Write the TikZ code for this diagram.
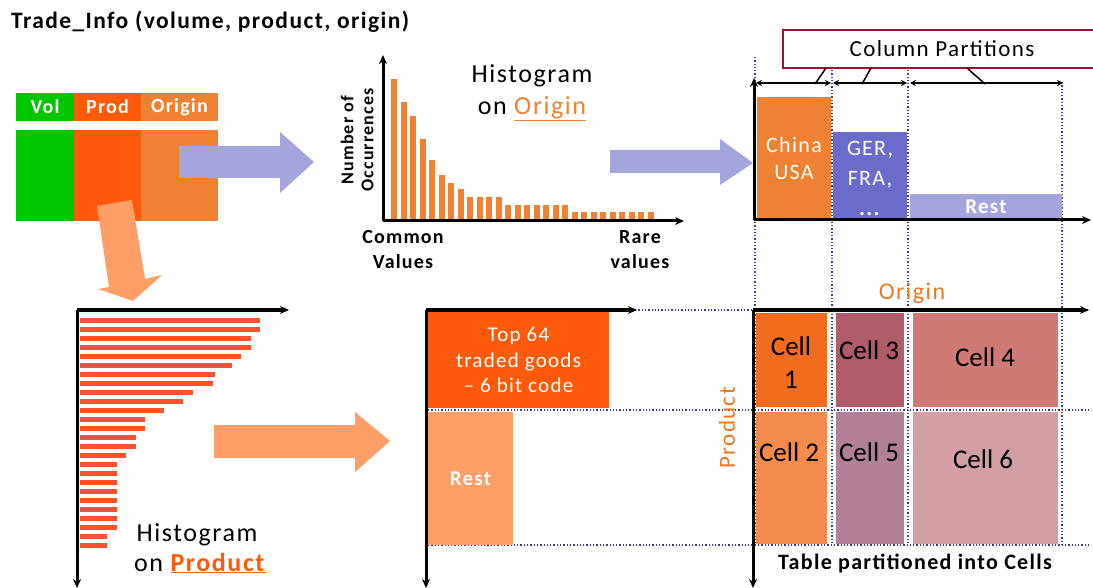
\documentclass[tikz,border=0pt]{standalone}
\usepackage{fontspec}
\setmainfont{Carlito}
\newfontfamily\widefont[LetterSpace=6]{Carlito}
\usetikzlibrary{arrows.meta}
\definecolor{cgreen}{HTML}{00C800}
\definecolor{cprod}{HTML}{FF5A0A}
\definecolor{corig}{HTML}{EE8232}
\definecolor{cbar}{HTML}{FF5030}
\definecolor{cblue}{HTML}{A5A5DE}
\definecolor{cger}{HTML}{6B6BCB}
\definecolor{clorange}{HTML}{FF9E66}
\definecolor{cdot}{HTML}{3A3A9A}
\definecolor{cborder}{HTML}{A01030}
\definecolor{ctxtor}{HTML}{F0761E}
\definecolor{cellone}{HTML}{F26B1F}
\definecolor{celltwo}{HTML}{F58C4E}
\definecolor{cellthree}{HTML}{AE5C69}
\definecolor{cellfour}{HTML}{D07A75}
\definecolor{cellfive}{HTML}{B18096}
\definecolor{cellsix}{HTML}{D39FA5}
\newcommand\fsz[2]{\fontsize{#1}{#2}\selectfont}
\begin{document}
\begin{tikzpicture}[x=1pt,y=-1pt,
  blk/.style={draw=none,inner sep=0pt,outer sep=0pt,anchor=north west},
  axis/.style={line width=3pt,-{Stealth[length=9pt,width=8pt]}},
  part/.style={line width=2pt,{Stealth[length=6pt,width=6pt]}-{Stealth[length=6pt,width=6pt]}},
  dotl/.style={cdot,line width=1.3pt,dotted},
  wtxt/.style={text=white,align=center,inner sep=0pt},
  ktxt/.style={text=black,align=center,inner sep=0pt}]
\useasboundingbox (0,0) rectangle (1093,588);
\fill[white] (0,0) rectangle (1093,588);

% title
\node[ktxt,anchor=west,font=\widefont\bfseries\fsz{23.5}{26}] (title) at (11,22) {Trade\_Info (volume, product, origin)};

% table header and body
\node[blk,fill=cgreen,minimum width=58pt,minimum height=28pt] (hvol) at (16,93) {};
\node[blk,fill=cprod,minimum width=67pt,minimum height=28pt] (hprod) at (74,93) {};
\node[blk,fill=corig,minimum width=77pt,minimum height=28pt] (horig) at (141,93) {};
\node[wtxt,font=\widefont\bfseries\fsz{20}{22}] at (hvol.center) {Vol};
\node[wtxt,font=\widefont\bfseries\fsz{20}{22}] at (hprod.center) {Prod};
\node[wtxt,font=\widefont\bfseries\fsz{20}{22}] at (horig.center) {Origin};
\node[blk,fill=cgreen,minimum width=58pt,minimum height=91pt] (bvol) at (16,130) {};
\node[blk,fill=cprod,minimum width=67pt,minimum height=91pt] (bprod) at (74,130) {};
\node[blk,fill=corig,minimum width=77pt,minimum height=91pt] (borig) at (141,130) {};

% block arrows
\fill[cblue] (179,146) -- (280,146) -- (280,132) -- (314,162) -- (280,193) -- (280,178) -- (179,178) -- cycle;
\fill[cblue] (610,150) -- (720,150) -- (720,139) -- (753,163) -- (720,185) -- (720,173) -- (610,173) -- cycle;
\fill[clorange] (97,206) -- (132,200) -- (145,279) -- (162,275) -- (133,301) -- (98,289) -- (109,287) -- cycle;
\fill[clorange] (214,425) -- (355,425) -- (355,412) -- (390,441) -- (355,472) -- (355,458) -- (214,458) -- cycle;

% histogram on origin
\foreach \t [count=\i from 0] in {79,102,116,139,160,175,183,189,197,197,197,197,205,205,205,205,205,205,205,212,212,212,212,212,212,212,212,212}
  \fill[corig] ({391+9.5*\i},\t) rectangle ({397.3+9.5*\i},220);
\coordinate (ho) at (383,221);
\coordinate (hoy) at (383,55);
\coordinate (hox) at (684,221);
\draw[axis] (ho) -- (hoy);
\draw[axis] (ho) -- (hox);
\node[ktxt,rotate=90,font=\widefont\bfseries\fsz{18}{20}] (occ) at (357,140) {Number of\\Occurrences};
\node[ktxt,font=\widefont\fsz{26}{28}] (hist1) at (532,76) {Histogram};
\node[ktxt,font=\widefont\fsz{26}{28}] (on1) at (532,109) {on \textcolor{corig}{\underline{Origin}}};
\node[ktxt,font=\widefont\bfseries\fsz{20}{25}] (common) at (403,250) {Common\\Values};
\node[ktxt,font=\widefont\bfseries\fsz{20}{25}] (rare) at (640,250) {Rare\\values};

% dotted guide lines
\draw[dotl] (755,57) -- (755,545);
\draw[dotl] (832,70) -- (832,545);
\draw[dotl] (908,70) -- (908,545);
\draw[dotl] (1062,82) -- (1062,545);
\draw[dotl] (635,310) -- (1090,310);
\draw[dotl] (428,410) -- (1090,410);
\draw[dotl] (428,545) -- (1090,545);

% column partitions plot
\node[blk,fill=corig,minimum width=74pt,minimum height=123pt] (china) at (757,97) {};
\node[blk,fill=cger,minimum width=74pt,minimum height=88pt] (ger) at (833,132) {};
\node[blk,fill=cblue,minimum width=152pt,minimum height=25pt] (rest1) at (910,194) {};
\node[wtxt,font=\widefont\fsz{22}{27}] at (china.center) {China\\USA};
\node[wtxt,font=\widefont\fsz{22}{30}] at ([yshift=-2pt]ger.center) {GER,\\FRA,\\\textbf{...}};
\node[wtxt,font=\widefont\bfseries\fsz{21}{22}] at (rest1.center) {Rest};
\coordinate (co) at (754,220);
\draw[axis] (co) -- (754,78);
\draw[axis] (co) -- (1091,220);
\coordinate (p0) at (756,83);
\coordinate (p1) at (831,83);
\coordinate (p2) at (833,83);
\coordinate (p3) at (907,83);
\coordinate (p4) at (910,83);
\coordinate (p5) at (1063,83);
\draw[part] (p0) -- (p1);
\draw[part] (p2) -- (p3);
\draw[part] (p4) -- (p5);
\fill[white,draw=cborder,line width=2pt] (1100,30) -- (783,30) -- (783,68) -- (1100,68);
\node[ktxt,font=\widefont\fsz{23}{25}] (colpart) at (942,49) {Column Partitions};
\draw[line width=1.5pt] (826,68) -- (815,84);
\draw[line width=1.5pt] (871,68) -- (862,84);
\draw[line width=1.5pt] (967,68) -- (985,84);

% histogram on product
\foreach \r [count=\i from 0] in {260,260,251,251,241,232,215,213,193,183,164,145,145,136,136,126,117,117,117,117,117,117,117,117,107,107}
  \fill[cbar] (80,{317.5+9*\i}) rectangle (\r,{322.5+9*\i});
\coordinate (hp) at (77,310);
\draw[axis] (hp) -- (77,588);
\draw[axis] (hp) -- (289,310);
\node[ktxt,font=\widefont\fsz{26}{28}] (hist2) at (197,535) {Histogram};
\node[ktxt,anchor=west,font=\widefont\fsz{26}{28}] (on2) at (134,563) {on \textcolor{cprod}{\underline{\textbf{Product}}}};

% product partitions
\node[blk,fill=cprod,minimum width=181pt,minimum height=96pt] (top64) at (428,312) {};
\node[blk,fill=clorange,minimum width=85pt,minimum height=133pt] (rest2) at (428,412) {};
\node[wtxt,font=\widefont\fsz{21}{25.5}] at (top64.center) {Top 64\\traded goods\\\textendash\ 6 bit code};
\node[wtxt,font=\widefont\bfseries\fsz{21}{22}] at (rest2.center) {Rest};
\coordinate (mo) at (426,310);
\draw[axis] (mo) -- (426,588);
\draw[axis] (mo) -- (637,310);
\node[ktxt,text=ctxtor,rotate=90,font=\widefont\fsz{23}{26}] (prodlab) at (727,428) {Product};

% cells
\node[blk,fill=cellone,minimum width=71pt,minimum height=94pt] (c1) at (756,313) {};
\node[blk,fill=celltwo,minimum width=71pt,minimum height=132pt] (c2) at (756,412) {};
\node[blk,fill=cellthree,minimum width=68pt,minimum height=94pt] (c3) at (836,313) {};
\node[blk,fill=cellfive,minimum width=68pt,minimum height=132pt] (c5) at (836,412) {};
\node[blk,fill=cellfour,minimum width=145pt,minimum height=94pt] (c4) at (913,313) {};
\node[blk,fill=cellsix,minimum width=145pt,minimum height=132pt] (c6) at (913,412) {};
\tikzset{celltxt/.style={ktxt,font=\fsz{27}{33}}}
\node[celltxt] (t1) at (791,363) {Cell\\1};
\node[celltxt] (t3) at (869,350) {Cell 3};
\node[celltxt] (t4) at (985,357) {Cell 4};
\node[celltxt] (t2) at (789,452) {Cell 2};
\node[celltxt] (t5) at (869,452) {Cell 5};
\node[celltxt] (t6) at (983,459) {Cell 6};
\coordinate (go) at (753,310);
\draw[axis] (go) -- (753,588);
\draw[axis] (go) -- (1089,310);
\node[ktxt,text=ctxtor,font=\widefont\fsz{24}{26}] (origlab) at (912,293) {Origin};
\node[ktxt,font=\widefont\bfseries\fsz{22}{24}] (tablab) at (915,563) {Table partitioned into Cells};
\end{tikzpicture}
\end{document}
